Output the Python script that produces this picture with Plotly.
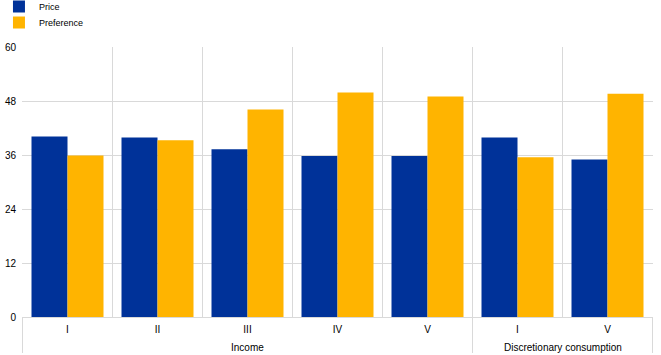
import plotly.graph_objects as go

groups = ["Income"] * 5 + ["Discretionary consumption"] * 2
quintiles = ["I", "II", "III", "IV", "V", "I", "V"]
price = [40.1, 39.9, 37.3, 35.8, 35.8, 39.9, 35.0]
preference = [35.9, 39.3, 46.1, 49.9, 49.0, 35.5, 49.6]
y_ticks = [0, 12, 24, 36, 48, 60]

BLUE = "#003299"
YELLOW = "#FFB400"
GRID = "#d9d9d9"
FONT = "Liberation Sans, Arial, sans-serif"

# unique category keys (quintile labels repeat across groups)
cats = [f"{g}|{q}" for g, q in zip(groups, quintiles)]

fig = go.Figure()
fig.add_trace(go.Bar(x=cats, y=price, name="Price", legend="legend",
                     marker=dict(color=BLUE, line=dict(width=0))))
fig.add_trace(go.Bar(x=cats, y=preference, name="Preference", legend="legend2",
                     marker=dict(color=YELLOW, line=dict(width=0))))

# group labels and dividers derived from the group list
group_order = []
for g in groups:
    if g not in group_order:
        group_order.append(g)
divider_y = -36 / 270
fig.add_shape(type="line", xref="x", yref="paper", x0=-0.5, x1=-0.5, y0=0, y1=divider_y,
              line=dict(color=GRID, width=1))
for g in group_order:
    idx = [i for i, gg in enumerate(groups) if gg == g]
    fig.add_annotation(x=(idx[0] + idx[-1]) / 2, xref="x", y=-30 / 270, yref="paper",
                       text=g, showarrow=False, yanchor="middle",
                       font=dict(size=10, family=FONT, color="#000000"))
    fig.add_shape(type="line", xref="x", yref="paper", x0=idx[-1] + 0.5, x1=idx[-1] + 0.5,
                  y0=0, y1=divider_y, line=dict(color=GRID, width=1))

legend_common = dict(
    xref="paper", xanchor="left", yref="paper", yanchor="top",
    orientation="v", font=dict(size=9, family=FONT), bgcolor="rgba(0,0,0,0)",
)

fig.update_layout(
    width=661, height=355,
    margin=dict(l=22, r=8, t=47, b=38, autoexpand=False),
    paper_bgcolor="white", plot_bgcolor="white",
    barmode="group", bargap=0.2, bargroupgap=0,
    font=dict(family=FONT, size=10, color="#000000"),
    showlegend=True,
    legend=dict(x=-0.0365, y=1.2037, **legend_common),
    legend2=dict(x=-0.0365, y=1.1444, **legend_common),
    xaxis=dict(
        type="category",
        tickmode="array", tickvals=cats, ticktext=quintiles,
        tickson="boundaries",
        showgrid=True, gridcolor=GRID, gridwidth=1,
        showline=True, linecolor=GRID, linewidth=1,
        ticks="",
        ticklabelstandoff=3,
        tickfont=dict(size=10, family=FONT),
        automargin=False,
        mirror=False,
    ),
    yaxis=dict(
        range=[0, 60],
        tickvals=y_ticks,
        showgrid=True, gridcolor=GRID, gridwidth=1,
        zeroline=False,
        showline=False,
        ticks="",
        ticklabelstandoff=5,
        tickfont=dict(size=10, family=FONT),
        automargin=False,
    ),
)

fig.write_html("out.html", config={"displayModeBar": False},
               post_script="document.body.style.margin='0';")
